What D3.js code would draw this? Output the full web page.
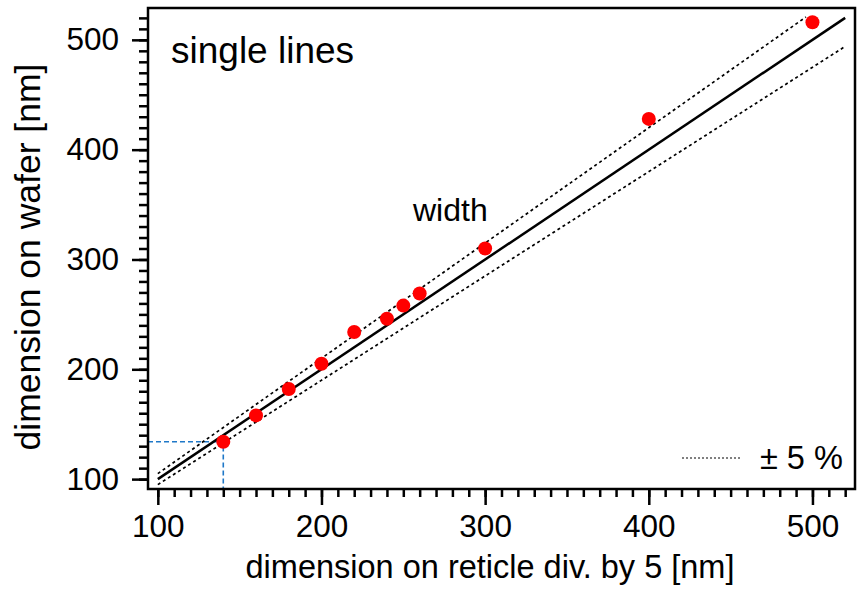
<!DOCTYPE html>
<html>
<head>
<meta charset="utf-8">
<script src="https://cdn.jsdelivr.net/npm/d3@7"></script>
<style>
  body { margin: 0; background: #fff; }
  svg text { font-family: "Liberation Sans", Arial, Helvetica, sans-serif; fill: #000; }
</style>
</head>
<body>
<div id="chart"></div>
<script>
// measured points: reticle dimension / 5 vs. dimension on wafer
const reticle = [140, 160, 180, 200, 220, 240, 250, 260, 300, 400, 500];
const wafer = [134, 158, 182, 205, 234, 246, 258, 269, 310, 428, 516];

// reference line y = x and the +/- 5 % band
const idealX = [100, 520];
const upperX = [100, 496];
const lowerX = [100, 520];
const bandFactor = 0.05;

// marked point (blue guide lines)
const markX = 140;
const markY = 134;

const majorTicks = [100, 200, 300, 400, 500];
const minorTicks = d3.range(100, 521, 10);

const width = 864, height = 590;
const margin = { left: 148, top: 8, right: 9, bottom: 101 };

const svg = d3.select("#chart")
  .append("svg")
  .attr("width", width)
  .attr("height", height);

const x = d3.scaleLinear().domain([94, 526]).range([margin.left, width - margin.right]);
const y = d3.scaleLinear().domain([91, 529]).range([height - margin.bottom, margin.top]);

const plotBottom = height - margin.bottom;

// axis ticks (outside the frame)
const xAxisMinor = d3.axisBottom(x).tickValues(minorTicks).tickSize(8).tickFormat("");
const xAxisMajor = d3.axisBottom(x).tickValues(majorTicks).tickSize(16).tickPadding(10);
const yAxisMinor = d3.axisLeft(y).tickValues(minorTicks).tickSize(9).tickFormat("");
const yAxisMajor = d3.axisLeft(y).tickValues(majorTicks).tickSize(16).tickPadding(13);

function styleAxis(g) {
  g.select(".domain").remove();
  g.selectAll("line").attr("stroke", "#000").attr("stroke-width", 2.5);
  g.selectAll("text")
    .style("font-family", "\"Liberation Sans\", Arial, sans-serif")
    .style("font-size", "31.5px")
    .attr("fill", "#000");
}

svg.append("g").attr("transform", `translate(0,${plotBottom})`).call(xAxisMinor).call(styleAxis);
svg.append("g").attr("transform", `translate(0,${plotBottom})`).call(xAxisMajor).call(styleAxis);
svg.append("g").attr("transform", `translate(${margin.left},0)`).call(yAxisMinor).call(styleAxis);
svg.append("g").attr("transform", `translate(${margin.left},0)`).call(yAxisMajor).call(styleAxis);

// blue guide lines to the marked point
svg.append("path")
  .attr("d", `M${x.range()[0]},${y(markY)} H${x(markX)} V${plotBottom}`)
  .attr("fill", "none")
  .attr("stroke", "#1f78c8")
  .attr("stroke-width", 1.6)
  .attr("stroke-dasharray", "5,3");

const line = d3.line().x(d => x(d[0])).y(d => y(d[1]));

// +/- 5 % lines
svg.append("path")
  .datum(upperX.map(v => [v, v * (1 + bandFactor)]))
  .attr("d", line)
  .attr("fill", "none")
  .attr("stroke", "#000")
  .attr("stroke-width", 1.7)
  .attr("stroke-dasharray", "3,3");

svg.append("path")
  .datum(lowerX.map(v => [v, v * (1 - bandFactor)]))
  .attr("d", line)
  .attr("fill", "none")
  .attr("stroke", "#000")
  .attr("stroke-width", 1.7)
  .attr("stroke-dasharray", "3,3");

// y = x
svg.append("path")
  .datum(idealX.map(v => [v, v]))
  .attr("d", line)
  .attr("fill", "none")
  .attr("stroke", "#000")
  .attr("stroke-width", 2.5);

// data points
svg.append("g")
  .selectAll("circle")
  .data(reticle.map((r, i) => [r, wafer[i]]))
  .enter()
  .append("circle")
  .attr("cx", d => x(d[0]))
  .attr("cy", d => y(d[1]))
  .attr("r", 7)
  .attr("fill", "#ff0000");

// frame
svg.append("rect")
  .attr("x", margin.left)
  .attr("y", margin.top)
  .attr("width", width - margin.left - margin.right)
  .attr("height", plotBottom - margin.top)
  .attr("fill", "none")
  .attr("stroke", "#000")
  .attr("stroke-width", 2.5);

// labels
svg.append("text")
  .attr("x", 171)
  .attr("y", 63)
  .style("font-size", "37px")
  .text("single lines");

svg.append("text")
  .attr("x", 413)
  .attr("y", 221)
  .style("font-size", "32px")
  .text("width");

// legend
svg.append("line")
  .attr("x1", 682).attr("x2", 742)
  .attr("y1", 458).attr("y2", 458)
  .attr("stroke", "#000")
  .attr("stroke-width", 1)
  .attr("stroke-dasharray", "2,2");

svg.append("text")
  .attr("x", 760)
  .attr("y", 469)
  .style("font-size", "32.5px")
  .text("± 5 %");

// axis titles
svg.append("text")
  .attr("x", 490)
  .attr("y", 578)
  .attr("text-anchor", "middle")
  .style("font-size", "32.5px")
  .text("dimension on reticle div. by 5 [nm]");

svg.append("text")
  .attr("transform", "translate(40,257) rotate(-90)")
  .attr("text-anchor", "middle")
  .style("font-size", "35.5px")
  .text("dimension on wafer [nm]");
</script>
</body>
</html>
